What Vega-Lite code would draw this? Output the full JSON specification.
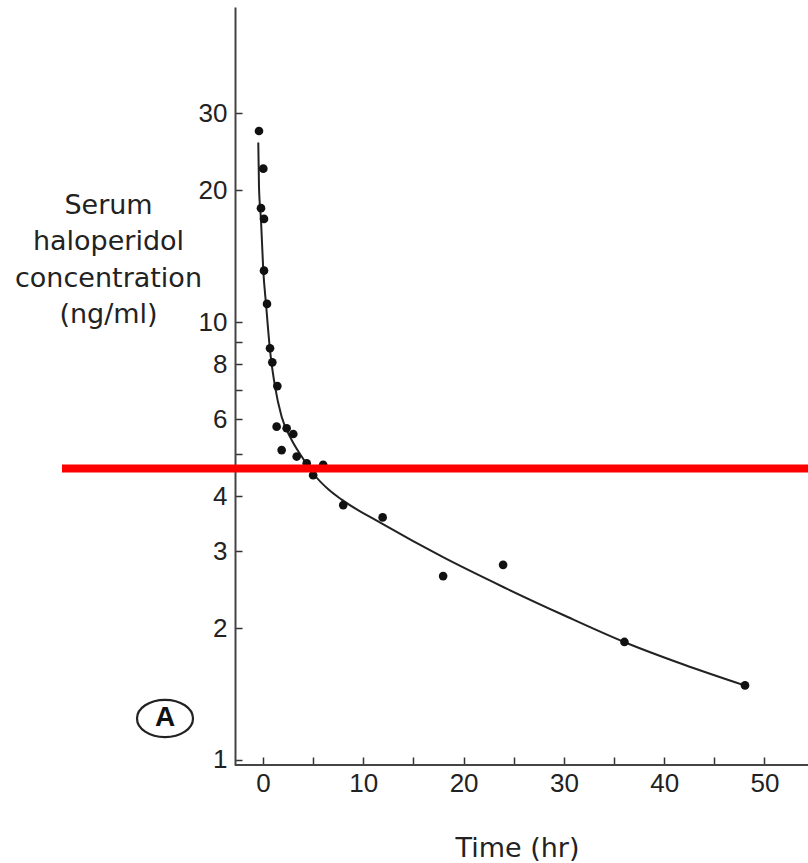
{
  "$schema": "https://vega.github.io/schema/vega-lite/v6.json",
  "width": 746,
  "height": 758,
  "autosize": {"type": "none"},
  "padding": {"left": 62, "top": 7, "right": 0, "bottom": 98},
  "background": "white",
  "config": {"view": {"stroke": null}, "axis": {"grid": false}},
  "datasets": {
    "points": [
      {"t": -0.4, "c": 27.3}, {"t": 0.03, "c": 22.4}, {"t": -0.2, "c": 18.2}, {"t": 0.1, "c": 17.2},
      {"t": 0.1, "c": 13.1}, {"t": 0.4, "c": 11.0}, {"t": 0.7, "c": 8.71}, {"t": 0.93, "c": 8.09},
      {"t": 1.43, "c": 7.14}, {"t": 1.36, "c": 5.77}, {"t": 2.36, "c": 5.72}, {"t": 3.02, "c": 5.55},
      {"t": 1.86, "c": 5.10}, {"t": 3.36, "c": 4.93}, {"t": 4.36, "c": 4.76}, {"t": 6.0, "c": 4.72},
      {"t": 5.0, "c": 4.47}, {"t": 8.0, "c": 3.82}, {"t": 11.93, "c": 3.58}, {"t": 17.96, "c": 2.63},
      {"t": 23.94, "c": 2.79}, {"t": 36.04, "c": 1.86}, {"t": 48.06, "c": 1.48}
    ],
    "curve": [
      {"t": -0.47, "c": 25.7}, {"t": -0.4, "c": 20.4}, {"t": -0.2, "c": 17.1}, {"t": 0.03, "c": 13.1},
      {"t": 0.3, "c": 11.0}, {"t": 0.7, "c": 8.63}, {"t": 1.2, "c": 7.12}, {"t": 1.86, "c": 6.08},
      {"t": 2.86, "c": 5.38}, {"t": 3.86, "c": 4.93}, {"t": 5.01, "c": 4.51}, {"t": 6.51, "c": 4.15},
      {"t": 7.85, "c": 3.93}, {"t": 12, "c": 3.45}, {"t": 18, "c": 2.9}, {"t": 24, "c": 2.48},
      {"t": 30, "c": 2.14}, {"t": 36, "c": 1.86}, {"t": 42, "c": 1.65}, {"t": 48.02, "c": 1.48}
    ],
    "threshold": [{"t": -20.04, "c": 4.63}, {"t": 54.34, "c": 4.63}],
    "xline": [{"t": -2.8, "c": 0.974}, {"t": 54.34, "c": 0.974}],
    "marker": [{"t": -9.77, "c": 1.244, "label": "A"}]
  },
  "encoding": {
    "x": {
      "field": "t", "type": "quantitative",
      "scale": {"domain": [-20.04, 54.34], "nice": false, "zero": false},
      "axis": {
        "domain": false,
        "values": [0, 5, 10, 15, 20, 25, 30, 35, 40, 45, 50],
        "labelExpr": "datum.value % 10 === 0 ? datum.label : ''",
        "tickSize": -8, "tickColor": "#333", "tickWidth": 1.5,
        "labelPadding": 13, "labelFont": "Liberation Sans", "labelFontSize": 26, "labelColor": "#222",
        "labelFlush": false, "labelOverlap": false,
        "title": "Time (hr)", "titleFont": "DejaVu Sans", "titleFontSize": 27, "titleFontWeight": "normal",
        "titleColor": "#222", "titleX": 455, "titleY": 91, "titleBaseline": "alphabetic", "titleAlign": "center"
      }
    },
    "y": {
      "field": "c", "type": "quantitative",
      "scale": {"type": "log", "domain": [0.974, 52.4], "nice": false, "zero": false},
      "axis": {
        "offset": -173,
        "values": [1, 2, 3, 4, 5, 6, 7, 8, 9, 10, 20, 30],
        "labelExpr": "indexof([5,7,9], datum.value) >= 0 ? '' : datum.value + ''",
        "domainColor": "#444", "domainWidth": 2,
        "tickSize": -7, "tickColor": "#333", "tickWidth": 1.5,
        "labelPadding": 15, "labelFont": "Liberation Sans", "labelFontSize": 26, "labelColor": "#222",
        "labelFlush": false, "labelOverlap": false,
        "title": ["Serum", "haloperidol", "concentration", "(ng/ml)"],
        "titleAngle": 0, "titleAlign": "center", "titleBaseline": "alphabetic",
        "titleX": -127, "titleY": 206, "titleLineHeight": 36.5,
        "titleFont": "DejaVu Sans", "titleFontSize": 27, "titleFontWeight": "normal", "titleColor": "#222"
      }
    }
  },
  "layer": [
    {"data": {"name": "xline"}, "mark": {"type": "line", "color": "#444", "strokeWidth": 2, "strokeCap": "butt"}},
    {"data": {"name": "curve"}, "mark": {"type": "line", "color": "#222", "strokeWidth": 2, "interpolate": "monotone"}},
    {"data": {"name": "points"}, "mark": {"type": "circle", "size": 75, "color": "#111", "opacity": 1}},
    {"data": {"name": "marker"}, "mark": {"type": "point", "shape": "M -1.5,0 A 1.5,1 0 1,0 1.5,0 A 1.5,1 0 1,0 -1.5,0 Z", "size": 1394, "filled": false, "stroke": "#222", "strokeWidth": 2.2, "opacity": 1}},
    {"data": {"name": "marker"}, "mark": {"type": "text", "font": "Liberation Sans Narrow, Liberation Sans, sans-serif", "fontWeight": "bold", "fontSize": 28, "color": "#111", "align": "center", "baseline": "middle"}, "encoding": {"text": {"field": "label"}}},
    {"data": {"name": "threshold"}, "mark": {"type": "line", "color": "#ff0000", "strokeWidth": 8, "strokeCap": "butt"}}
  ]
}
